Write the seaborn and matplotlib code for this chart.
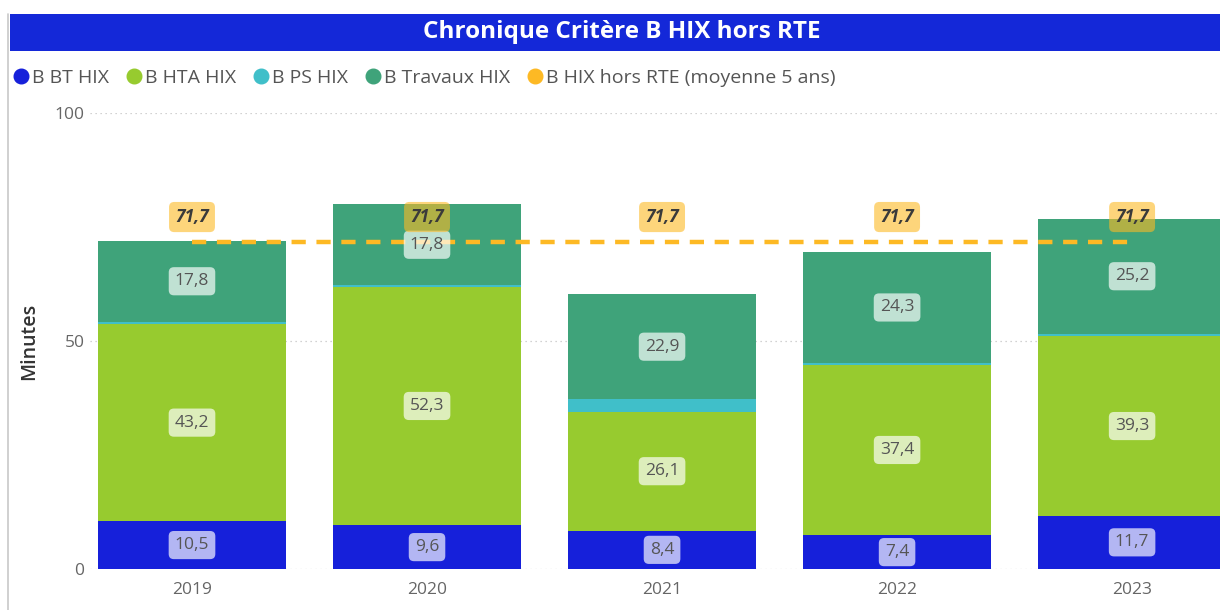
import matplotlib
matplotlib.use("Agg")
import matplotlib.pyplot as plt
from matplotlib.lines import Line2D
from matplotlib.patches import Rectangle
import pandas as pd
import seaborn as sns

years = ["2019", "2020", "2021", "2022", "2023"]
bt = [10.5, 9.6, 8.4, 7.4, 11.7]
hta = [43.2, 52.3, 26.1, 37.4, 39.3]
ps = [0.5, 0.3, 2.8, 0.4, 0.6]
travaux = [17.8, 17.8, 22.9, 24.3, 25.2]
moyenne = [71.7, 71.7, 71.7, 71.7, 71.7]

series = ["B BT HIX", "B HTA HIX", "B PS HIX", "B Travaux HIX"]
avg_name = "B HIX hors RTE (moyenne 5 ans)"
colors = ["#1620DA", "#97CB2F", "#40BFC9", "#3FA37A"]
avg_color = "#FDB924"
show_label = [True, True, False, True]

sns.set_theme(style="white")
plt.rcParams["font.family"] = ["Open Sans", "DejaVu Sans"]

df = pd.DataFrame({"annee": years, series[0]: bt, series[1]: hta,
                   series[2]: ps, series[3]: travaux})
cum = df[series].cumsum(axis=1)
cum.insert(0, "annee", years)

fig = plt.figure(figsize=(12.2, 6.1), dpi=100)
ax = fig.add_axes([90 / 1220, 0.0672, 1 - 90 / 1220, 0.7476])

# stacked bars: draw cumulative totals from the top segment down
for s, c in reversed(list(zip(series, colors))):
    sns.barplot(data=cum, x="annee", y=s, color=c, saturation=1, width=0.8,
                linewidth=0, errorbar=None, ax=ax, zorder=2)

# segment labels
for k, s in enumerate(series):
    if not show_label[k]:
        continue
    for i in range(len(years)):
        val = df[s][i]
        mid = cum[s][i] - val / 2
        ax.text(i, mid, f"{val:.1f}".replace(".", ","), ha="center", va="center",
                fontsize=12.5, color="#555555", zorder=5,
                bbox=dict(boxstyle="round,pad=0.35,rounding_size=0.3",
                          fc="white", ec="none", alpha=0.68))

# 5-year average line
ax.plot(range(len(years)), moyenne, color=avg_color, lw=3.2,
        dashes=(3.2, 2.4), zorder=4, solid_capstyle="butt")
for i, m in enumerate(moyenne):
    ax.annotate(f"{m:.1f}".replace(".", ","), (i, m), xytext=(0, 18),
                textcoords="offset points", ha="center", va="center",
                fontsize=12.5, fontweight="bold", fontstyle="italic", color="#3a3a3a",
                zorder=6,
                bbox=dict(boxstyle="round,pad=0.35,rounding_size=0.3",
                          fc=avg_color, ec="none", alpha=0.6))

ax.set_ylim(0, 100)
ax.set_xlim(-0.434, 4.374)
ax.set_yticks([0, 50, 100])
ax.yaxis.grid(True, linestyle=(0, (1, 3)), color="#c4c4c4", linewidth=0.9)
ax.xaxis.grid(False)
ax.set_axisbelow(True)
for sp in ax.spines.values():
    sp.set_visible(False)
ax.tick_params(axis="both", length=0, labelsize=12.5, labelcolor="#666666")
ax.tick_params(axis="y", pad=4)
ax.tick_params(axis="x", pad=9)
ax.set_xlabel("")
ax.set_ylabel("Minutes", fontsize=14, color="#333333", fontweight="semibold")
ax.yaxis.set_label_coords(-0.045, 0.5)

# title bar
fig.patches.append(Rectangle((10 / 1220, 1 - 51 / 610), 1, 37 / 610,
                             transform=fig.transFigure, fc="#1428D8", ec="none",
                             zorder=0))
fig.text(622 / 1220, 1 - 32 / 610, "Chronique Critère B HIX hors RTE",
         ha="center", va="center", color="white", fontsize=17.5, fontweight="bold")
fig.add_artist(Line2D([8 / 1220, 8 / 1220], [0, 1 - 14 / 610],
                      transform=fig.transFigure, color="#c8c8c8", lw=1.2))

# legend
handles = [Line2D([], [], marker="o", ls="", ms=10.5, color=c) for c in colors]
handles.append(Line2D([], [], marker="o", ls="", ms=10.5, color=avg_color))
fig.legend(handles, series + [avg_name], loc="center left",
           bbox_to_anchor=(16 / 1220, 1 - 78 / 610), ncol=5, frameon=False,
           fontsize=14, labelcolor="#555555", handlelength=0.5,
           handletextpad=0.3, columnspacing=1.05, borderaxespad=0, borderpad=0)

fig.savefig("out.png", dpi=100)
